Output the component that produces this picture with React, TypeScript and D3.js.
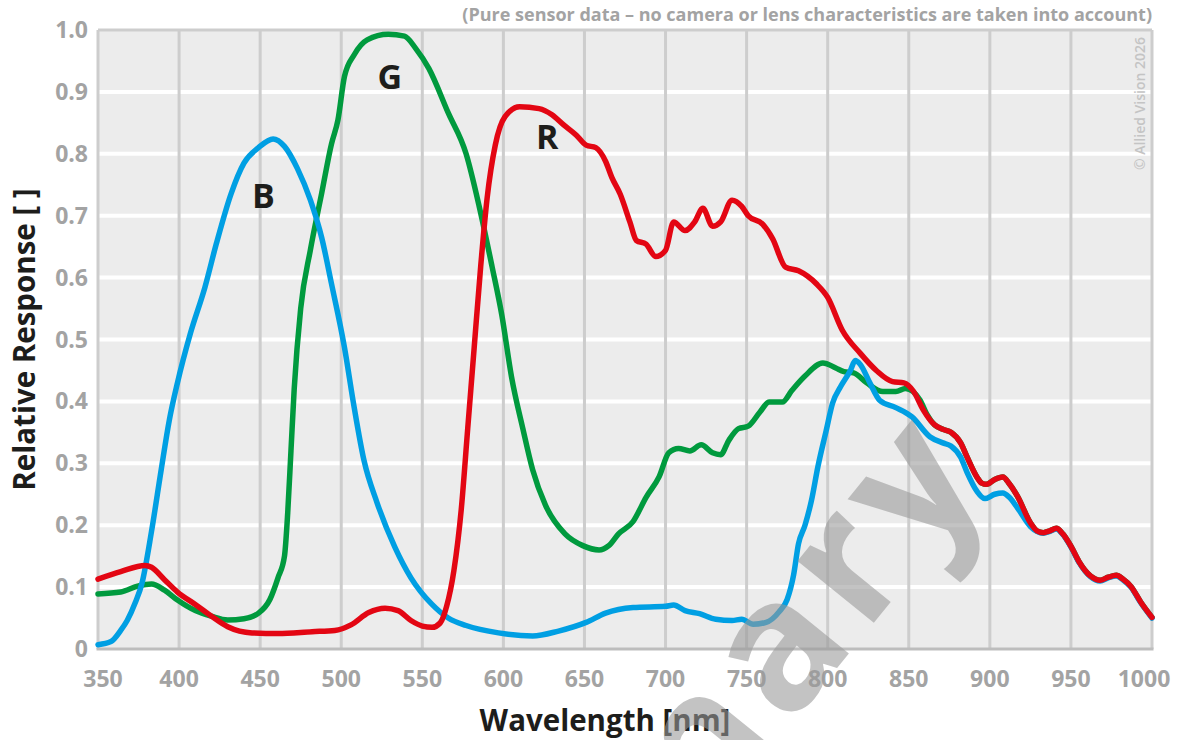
import { useEffect } from 'react';
import * as d3 from 'd3';

// wavelength [nm], relative response
const blueData: [number, number][] = [
  [350, 0.007], [358, 0.012], [364, 0.03], [368, 0.046], [373, 0.075], [377, 0.105], [383, 0.19],
  [389, 0.29], [394, 0.37], [399, 0.43], [407, 0.51], [416, 0.585], [423, 0.655], [432, 0.735],
  [440, 0.785], [449, 0.81], [458, 0.824], [465, 0.812], [473, 0.776], [481, 0.725], [488, 0.664],
  [494, 0.59], [502, 0.487], [508, 0.39], [514, 0.305], [522, 0.237], [533, 0.165], [543, 0.115],
  [556, 0.072], [566, 0.05], [577, 0.038], [597, 0.026], [618, 0.021], [634, 0.029], [651, 0.043],
  [663, 0.058], [680, 0.067], [700, 0.069], [705, 0.071], [712, 0.062], [721, 0.057], [731, 0.048],
  [741, 0.046], [747, 0.048], [754, 0.04], [762, 0.043], [770, 0.06], [775, 0.08], [779, 0.12],
  [782, 0.17], [786, 0.2], [790, 0.24], [794, 0.295], [799, 0.352], [803, 0.397], [808, 0.424],
  [814, 0.45], [817, 0.466], [820, 0.46], [826, 0.43], [832, 0.402], [842, 0.39], [852, 0.375],
  [863, 0.343], [871, 0.333], [876, 0.328], [882, 0.31], [886, 0.285], [892, 0.255], [897, 0.243],
  [903, 0.25], [908, 0.252], [912, 0.245], [917, 0.228], [925, 0.198], [929, 0.19], [933, 0.187],
  [937, 0.19], [941, 0.194], [945, 0.185], [950, 0.165], [955, 0.14], [962, 0.117], [968, 0.11],
  [973, 0.115], [978, 0.118], [982, 0.112], [987, 0.1], [993, 0.075], [1000, 0.05],
];

const greenData: [number, number][] = [
  [350, 0.089], [364, 0.092], [375, 0.102], [383, 0.105], [391, 0.095], [399, 0.079], [410, 0.062],
  [420, 0.053], [430, 0.047], [440, 0.049], [449, 0.058], [456, 0.08], [461, 0.115], [465, 0.15],
  [467, 0.22], [469, 0.32], [471, 0.42], [475, 0.55], [481, 0.645], [488, 0.737], [494, 0.816],
  [498, 0.855], [502, 0.925], [508, 0.96], [516, 0.984], [529, 0.993], [539, 0.99], [546, 0.97],
  [554, 0.938], [566, 0.866], [577, 0.8], [585, 0.716], [593, 0.618], [599, 0.54], [605, 0.44],
  [612, 0.356], [618, 0.29], [626, 0.232], [638, 0.186], [649, 0.167], [659, 0.16], [665, 0.167],
  [671, 0.186], [680, 0.206], [688, 0.245], [696, 0.278], [702, 0.317], [708, 0.324], [715, 0.32],
  [722, 0.33], [729, 0.317], [734, 0.314], [739, 0.337], [745, 0.356], [751, 0.36], [758, 0.382],
  [764, 0.399], [772, 0.399], [778, 0.418], [786, 0.441], [797, 0.462], [805, 0.454], [810, 0.448],
  [816, 0.446], [824, 0.43], [834, 0.416], [842, 0.416], [848, 0.421], [857, 0.402], [861, 0.38],
  [866, 0.362], [871, 0.355], [876, 0.35], [882, 0.333], [886, 0.31], [892, 0.278], [895, 0.268],
  [898, 0.266], [903, 0.274], [908, 0.278], [912, 0.267], [917, 0.247], [925, 0.204], [929, 0.191],
  [933, 0.188], [937, 0.191], [941, 0.195], [945, 0.186], [950, 0.166], [955, 0.141], [962, 0.118],
  [968, 0.111], [973, 0.116], [978, 0.119], [982, 0.113], [987, 0.101], [993, 0.076], [1000, 0.051],
];

const redData: [number, number][] = [
  [350, 0.113], [364, 0.125], [379, 0.135], [383, 0.132], [391, 0.112], [399, 0.092], [410, 0.072],
  [420, 0.053], [430, 0.036], [445, 0.026], [461, 0.025], [482, 0.028], [496, 0.03], [506, 0.039],
  [517, 0.059], [527, 0.066], [535, 0.062], [543, 0.046], [550, 0.037], [556, 0.035], [561, 0.042],
  [565, 0.069], [569.5, 0.127], [574, 0.225], [578, 0.356], [582, 0.487], [586, 0.618], [590, 0.729],
  [595, 0.814], [601, 0.86], [610, 0.876], [622, 0.873], [630, 0.863], [637, 0.847], [645, 0.83],
  [651, 0.814], [657, 0.81], [663, 0.788], [667, 0.761], [672, 0.735], [678, 0.69], [682, 0.66],
  [688, 0.654], [694, 0.634], [700, 0.644], [705, 0.69], [712, 0.676], [718, 0.69], [723, 0.712],
  [729, 0.683], [734, 0.69], [741, 0.725], [747, 0.715], [751, 0.7], [760, 0.686], [766, 0.663],
  [774, 0.617], [782, 0.611], [793, 0.59], [800, 0.568], [809, 0.515], [820, 0.478], [830, 0.45],
  [840, 0.432], [847, 0.43], [853, 0.416], [859, 0.386], [866, 0.362], [871, 0.355], [876, 0.35],
  [882, 0.333], [886, 0.31], [892, 0.278], [895, 0.268], [898, 0.266], [903, 0.274], [908, 0.278],
  [912, 0.267], [917, 0.247], [925, 0.204], [929, 0.191], [933, 0.188], [937, 0.191], [941, 0.195],
  [945, 0.186], [950, 0.166], [955, 0.141], [962, 0.118], [968, 0.111], [973, 0.116], [978, 0.119],
  [982, 0.113], [987, 0.101], [993, 0.076], [1000, 0.051],
];

const xTicks = [350, 400, 450, 500, 550, 600, 650, 700, 750, 800, 850, 900, 950, 1000];
const yTicks = [0, 0.1, 0.2, 0.3, 0.4, 0.5, 0.6, 0.7, 0.8, 0.9, 1.0];

const curveLabels = [
  { text: 'B', nm: 452, v: 0.713 },
  { text: 'G', nm: 530, v: 0.905 },
  { text: 'R', nm: 627, v: 0.807 },
];

const W = 1193;
const H = 740;
const margin = { top: 30, right: 41, bottom: 91, left: 98 };
const FONT = '"Open Sans", "Noto Sans", sans-serif';

export default function App() {
  useEffect(() => {
    document.body.style.margin = '0';
  }, []);

  const x = d3.scaleLinear().domain([350, 1000]).range([margin.left, W - margin.right]);
  const y = d3.scaleLinear().domain([0, 1]).range([H - margin.bottom, margin.top]);

  const line = d3
    .line<[number, number]>()
    .x(d => x(d[0]))
    .y(d => y(d[1]))
    .curve(d3.curveMonotoneX);

  const series = [
    { data: greenData, color: '#009a3e' },
    { data: blueData, color: '#009fe3' },
    { data: redData, color: '#e30613' },
  ];

  const x0 = x(350), x1 = x(1000), y0 = y(0), y1 = y(1);

  return (
    <svg width={W} height={H} style={{ position: 'absolute', left: 0, top: 0, display: 'block' }} fontFamily={FONT}>
      <rect x={x0} y={y1} width={x1 - x0} height={y0 - y1} fill="#ececec" />

      {/* horizontal grid */}
      {yTicks.filter(t => t > 0 && t < 1).map(t => (
        <line key={'h' + t} x1={x0} x2={x1} y1={y(t)} y2={y(t)} stroke="#fff" strokeWidth={4} />
      ))}
      {/* vertical grid */}
      {xTicks.filter(t => t > 350 && t < 1000).map(t => (
        <line key={'v' + t} x1={x(t)} x2={x(t)} y1={y1} y2={y0} stroke="#cdcdcd" strokeWidth={3} />
      ))}
      {/* frame */}
      <line x1={x0} x2={x1} y1={y1} y2={y1} stroke="#cdcdcd" strokeWidth={3} />
      <line x1={x0} x2={x0} y1={y1} y2={y0} stroke="#cdcdcd" strokeWidth={3} />
      <line x1={x1} x2={x1} y1={y1} y2={y0} stroke="#cdcdcd" strokeWidth={3} />
      <line x1={x0 - 1.5} x2={x1 + 1.5} y1={y0} y2={y0} stroke="#bdbdbd" strokeWidth={3} />

      {/* copyright */}
      <text
        transform={`translate(${x1 - 7},${y1 + 7}) rotate(-90)`}
        textAnchor="end"
        fontSize={14}
        fontWeight={600}
        fill="#c4c4c4"
      >
        © Allied Vision 2026
      </text>

      {/* curves */}
      {series.map((s, i) => (
        <path key={i} d={line(s.data) || ''} fill="none" stroke={s.color} strokeWidth={5.5} strokeLinejoin="round" strokeLinecap="round" />
      ))}

      {curveLabels.map(l => (
        <text key={l.text} x={x(l.nm)} y={y(l.v)} textAnchor="middle" fontSize={34} fontWeight={700} fill="#1d1d1b">
          {l.text}
        </text>
      ))}

      {/* y axis labels */}
      {yTicks.map(t => (
        <text key={'yl' + t} x={x0 - 10} y={y(t) + 8} textAnchor="end" fontSize={23} fontWeight={700} fill="#a3a3a3">
          {t === 0 ? '0' : t.toFixed(1)}
        </text>
      ))}
      {/* x axis labels */}
      {xTicks.map(t => {
        let dx = 0;
        if (t === 350) dx = 5;
        if (t === 1000) dx = -8;
        return (
          <text key={'xl' + t} x={x(t) + dx} y={y0 + 38} textAnchor="middle" fontSize={23} fontWeight={700} fill="#a3a3a3">
            {t}
          </text>
        );
      })}

      <text x={(x0 + x1) / 2 - 20} y={H - 9} textAnchor="middle" fontSize={29.5} fontWeight={700} fill="#1d1d1b">
        Wavelength [nm]
      </text>
      <text transform={`translate(35,${(y0 + y1) / 2}) rotate(-90)`} textAnchor="middle" fontSize={29.5} fontWeight={700} fill="#1d1d1b">
        Relative Response [ ]
      </text>

      <text x={x1} y={21} textAnchor="end" fontSize={18} fontWeight={700} fill="#a3a3a3">
        (Pure sensor data – no camera or lens characteristics are taken into account)
      </text>

      {/* watermark */}
      <text
        transform="translate(996,472) rotate(-51)"
        textAnchor="end"
        fontSize={180}
        fontWeight={700}
        letterSpacing={12}
        fill="#999"
        opacity={0.58}
      >
        Preliminary
      </text>
    </svg>
  );
}
